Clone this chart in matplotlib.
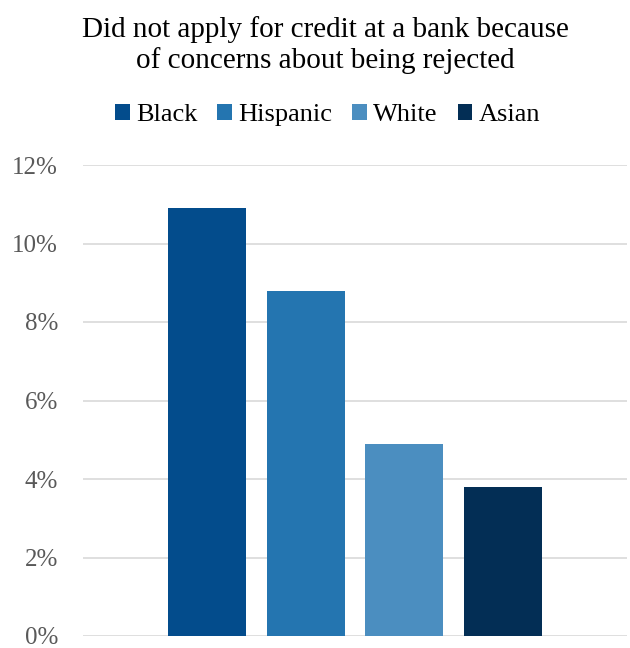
import matplotlib
matplotlib.use("Agg")
import matplotlib.pyplot as plt
from matplotlib.ticker import FuncFormatter

groups = ["Black", "Hispanic", "White", "Asian"]
shares = [10.9, 8.8, 4.9, 3.8]
colors = ["#034C8C", "#2475B0", "#4B8EC0", "#032E55"]
yticks = [0, 2, 4, 6, 8, 10, 12]

plt.rcParams["font.family"] = ["Liberation Serif", "DejaVu Serif"]

fig = plt.figure(figsize=(6.3, 6.48), dpi=100)
ax = fig.add_axes([83 / 630, 1 - 636 / 648, 544 / 630, 471 / 648])

for i, (g, v, c) in enumerate(zip(groups, shares, colors)):
    ax.bar(i, v, width=0.79, color=c, label=g, zorder=3)

ax.set_xlim(-1.256, 4.255)
ax.set_ylim(0, 12)
ax.set_yticks(yticks)
ax.yaxis.set_major_formatter(FuncFormatter(lambda v, p: f"{v:.0f}%"))
ax.tick_params(axis="y", length=0, pad=18, labelsize=18, labelcolor="#595959")
ax.set_xticks([])
ax.grid(axis="y", color="#d9d9d9", linewidth=1.2, zorder=0)
for s in ["top", "right", "left", "bottom"]:
    ax.spines[s].set_visible(False)

fig.text(0.516, 1 - 45 / 648,
         "Did not apply for credit at a bank because\nof concerns about being rejected",
         ha="center", va="center", fontsize=21, color="#000000", linespacing=1.15)

fig.legend(loc="center", bbox_to_anchor=(0.52, 1 - 115 / 648), ncol=4,
           frameon=False, fontsize=19, handlelength=0.55, handleheight=0.55,
           handletextpad=0.25, columnspacing=0.75)

fig.savefig("out.png", dpi=100)
